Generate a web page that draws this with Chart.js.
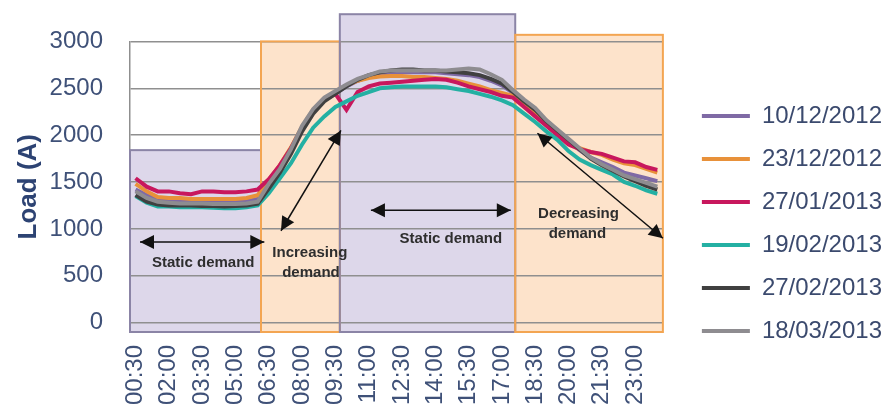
<!DOCTYPE html>
<html>
<head>
<meta charset="utf-8">
<script src="https://cdn.jsdelivr.net/npm/chart.js@4.4.1/dist/chart.umd.min.js"></script>
<style>
  html, body { margin: 0; padding: 0; background: #ffffff; }
  #wrap { width: 886px; height: 409px; position: relative; }
</style>
</head>
<body>
<div id="wrap"><canvas id="loadChart"></canvas></div>
<script>
// half-hour readings, 00:30 .. 24:00
const times = ['00:30','01:00','01:30','02:00','02:30','03:00','03:30','04:00','04:30','05:00','05:30','06:00',
               '06:30','07:00','07:30','08:00','08:30','09:00','09:30','10:00','10:30','11:00','11:30','12:00',
               '12:30','13:00','13:30','14:00','14:30','15:00','15:30','16:00','16:30','17:00','17:30','18:00',
               '18:30','19:00','19:30','20:00','20:30','21:00','21:30','22:00','22:30','23:00','23:30','24:00'];

const loadTicks = [0, 500, 1000, 1500, 2000, 2500, 3000];

const seriesNames = ['10/12/2012', '23/12/2012', '27/01/2013', '19/02/2013', '27/02/2013', '18/03/2013'];
const seriesColors = ['#7f6aa5', '#e8913a', '#c8175d', '#24b0a3', '#404040', '#8e8c90'];

const load_10_12_2012 = [1420,1360,1310,1300,1300,1290,1290,1290,1285,1290,1295,1320,
                         1470,1630,1830,2070,2260,2380,2450,2520,2580,2620,2650,2660,
                         2670,2670,2670,2670,2660,2650,2640,2620,2580,2530,2450,2350,
                         2260,2150,2050,1940,1840,1760,1710,1660,1600,1570,1540,1510];
const load_23_12_2012 = [1480,1400,1340,1330,1330,1320,1320,1320,1320,1320,1330,1360,
                         1520,1680,1870,2090,2270,2390,2460,2530,2580,2610,2625,2630,
                         2630,2620,2620,2610,2600,2580,2550,2520,2480,2450,2420,2330,
                         2240,2130,2030,1910,1860,1820,1790,1740,1700,1680,1640,1600];
const load_27_01_2013 = [1540,1450,1400,1400,1380,1370,1400,1400,1390,1390,1400,1420,
                         1530,1680,1860,2080,2260,2380,2440,2270,2460,2520,2550,2560,
                         2570,2580,2590,2600,2590,2560,2520,2490,2460,2420,2400,2300,
                         2200,2100,2000,1900,1850,1820,1800,1760,1720,1710,1660,1630];
const load_19_02_2013 = [1350,1280,1240,1240,1230,1230,1230,1225,1220,1220,1230,1250,
                         1380,1540,1700,1900,2080,2200,2300,2360,2420,2460,2500,2510,
                         2520,2520,2520,2520,2510,2490,2470,2440,2410,2370,2320,2230,
                         2140,2040,1950,1830,1740,1680,1630,1580,1500,1460,1410,1375];
const load_27_02_2013 = [1360,1290,1260,1250,1250,1250,1245,1245,1240,1245,1250,1270,
                         1430,1600,1800,2040,2230,2360,2440,2520,2590,2640,2670,2690,
                         2700,2700,2690,2690,2680,2670,2660,2640,2600,2550,2460,2360,
                         2270,2150,2050,1950,1850,1750,1680,1620,1560,1510,1460,1420];
const load_18_03_2013 = [1400,1330,1290,1280,1270,1270,1270,1265,1265,1265,1270,1290,
                         1480,1640,1850,2100,2280,2400,2470,2540,2600,2640,2680,2690,
                         2690,2690,2690,2690,2690,2700,2710,2700,2650,2590,2480,2380,
                         2290,2160,2060,1960,1860,1760,1690,1630,1570,1530,1490,1450];

const seriesValues = [load_10_12_2012, load_23_12_2012, load_27_01_2013, load_19_02_2013, load_27_02_2013, load_18_03_2013];

// demand zones (category index range, top load value)
const zoneFrom = [-0.5, 11.3, 18.4, 34.2];
const zoneTo = [11.3, 18.4, 34.2, 47.5];
const zoneTop = [1840, 3000, 3290, 3070];
const zoneStatic = [true, false, true, false];

// double arrows [x1, y1, x2, y2] in index / load units
const arrowLines = [
    [0.4, 860, 11.6, 860],
    [13.1, 980, 18.5, 2050],
    [21.2, 1200, 33.8, 1200],
    [36.2, 2020, 47.5, 900]
];
const noteText = ['Static demand', 'Increasing', 'demand', 'Static demand', 'Decreasing', 'demand'];
const noteX = [6.1, 15.7, 15.8, 28.4, 39.9, 39.8];
const noteY = [640, 745, 535, 895, 1155, 945];

function arrowHead(ctx, fx, fy, tx, ty) {
    const ang = Math.atan2(ty - fy, tx - fx);
    const len = 14, half = 7;
    ctx.beginPath();
    ctx.moveTo(tx, ty);
    ctx.lineTo(tx - len * Math.cos(ang) + half * Math.sin(ang), ty - len * Math.sin(ang) - half * Math.cos(ang));
    ctx.lineTo(tx - len * Math.cos(ang) - half * Math.sin(ang), ty - len * Math.sin(ang) + half * Math.cos(ang));
    ctx.closePath();
    ctx.fill();
}

const zonePlugin = {
    id: 'zones',
    beforeDraw(chart) {
        const {ctx, chartArea, scales: {x, y}} = chart;
        ctx.save();
        for (let i = 0; i < zoneFrom.length; i++) {
            const l = x.getPixelForValue(zoneFrom[i]);
            const r = x.getPixelForValue(zoneTo[i]);
            const t = y.getPixelForValue(zoneTop[i]);
            ctx.fillStyle = zoneStatic[i] ? '#ddd7ea' : '#fde3cb';
            ctx.fillRect(l, t, r - l, chartArea.bottom - t);
        }
        ctx.restore();
    },
    beforeDatasetsDraw(chart) {
        const {ctx, chartArea, scales: {x, y}} = chart;
        ctx.save();
        ctx.lineWidth = 2;
        for (let i = 0; i < zoneFrom.length; i++) {
            const l = x.getPixelForValue(zoneFrom[i]);
            const r = x.getPixelForValue(zoneTo[i]);
            const t = y.getPixelForValue(zoneTop[i]);
            ctx.strokeStyle = zoneStatic[i] ? '#8b84a6' : '#f3a552';
            ctx.strokeRect(l, t, r - l, chartArea.bottom - t);
        }
        ctx.restore();
    },
    afterDatasetsDraw(chart) {
        const {ctx, scales: {x, y}} = chart;
        ctx.save();
        ctx.strokeStyle = '#111111';
        ctx.fillStyle = '#111111';
        ctx.lineWidth = 1.5;
        arrowLines.forEach(a => {
            const x1 = x.getPixelForValue(a[0]), y1 = y.getPixelForValue(a[1]);
            const x2 = x.getPixelForValue(a[2]), y2 = y.getPixelForValue(a[3]);
            ctx.beginPath();
            ctx.moveTo(x1, y1);
            ctx.lineTo(x2, y2);
            ctx.stroke();
            arrowHead(ctx, x1, y1, x2, y2);
            arrowHead(ctx, x2, y2, x1, y1);
        });
        ctx.fillStyle = '#2e2e2e';
        ctx.font = 'bold 15px "Liberation Sans"';
        ctx.textAlign = 'center';
        ctx.textBaseline = 'middle';
        for (let i = 0; i < noteText.length; i++) {
            ctx.fillText(noteText[i], x.getPixelForValue(noteX[i]), y.getPixelForValue(noteY[i]));
        }
        ctx.restore();
    }
};

// leave a gap between plot and legend, like the original figure
const legendGap = 14;
const legendShift = 20;
const legendSpace = {
    id: 'legendSpace',
    beforeLayout(chart) {
        const lg = chart.legend;
        if (lg && !lg.gapDone) {
            const baseFit = lg.fit;
            lg.fit = function() {
                baseFit.call(this);
                this.width += legendGap;
            };
            lg.gapDone = true;
        }
    },
    afterLayout(chart) {
        if (chart.legend) chart.legend.left += legendShift;
    }
};

const datasets = seriesNames.map((name, i) => ({
    label: name,
    data: seriesValues[i],
    borderColor: seriesColors[i],
    backgroundColor: seriesColors[i],
    borderWidth: 4,
    pointRadius: 0,
    tension: 0,
    order: seriesNames.length - 1 - i
}));

const axisColor = '#3f5178';

const ctx = document.getElementById('loadChart').getContext('2d');
const loadChart = new Chart(ctx, {
    type: 'line',
    data: { labels: times, datasets: datasets },
    options: {
        responsive: true,
        maintainAspectRatio: false,
        animation: false,
        layout: { padding: { top: 38, right: 0, bottom: 0, left: 0 } },
        plugins: {
            tooltip: { enabled: false },
            legend: {
                position: 'right',
                reverse: true,
                labels: {
                    usePointStyle: true,
                    pointStyle: 'line',
                    pointStyleWidth: 48,
                    padding: 19,
                    color: '#3b4a6e',
                    font: { size: 24, family: 'Liberation Sans' }
                }
            }
        },
        scales: {
            x: {
                offset: true,
                afterFit: (s) => { s.height = 77; },
                grid: { display: false, drawTicks: false },
                border: { color: '#8f8f8f', width: 2 },
                ticks: {
                    autoSkip: false,
                    minRotation: 90,
                    maxRotation: 90,
                    padding: 13,
                    color: axisColor,
                    font: { size: 24, family: 'Liberation Sans' },
                    callback: function(val, i) { return i % 3 === 0 ? this.getLabelForValue(val) : ''; }
                }
            },
            y: {
                min: -100,
                max: 3000,
                afterBuildTicks: (s) => { s.ticks = loadTicks.map(v => ({ value: v })); },
                afterFit: (s) => { s.width = 130; },
                grid: { color: '#8f8f8f', lineWidth: 1.5, drawTicks: false },
                border: { color: '#8f8f8f', width: 1.5 },
                ticks: {
                    padding: 27,
                    color: axisColor,
                    font: { size: 24, family: 'Liberation Sans' },
                    callback: (v) => String(v)
                },
                title: {
                    display: true,
                    text: 'Load (A)',
                    color: '#2d4373',
                    font: { size: 26, weight: 'bold', family: 'Liberation Sans' },
                    padding: { top: 13, bottom: 0 }
                }
            }
        }
    },
    plugins: [zonePlugin, legendSpace]
});
</script>
</body>
</html>
